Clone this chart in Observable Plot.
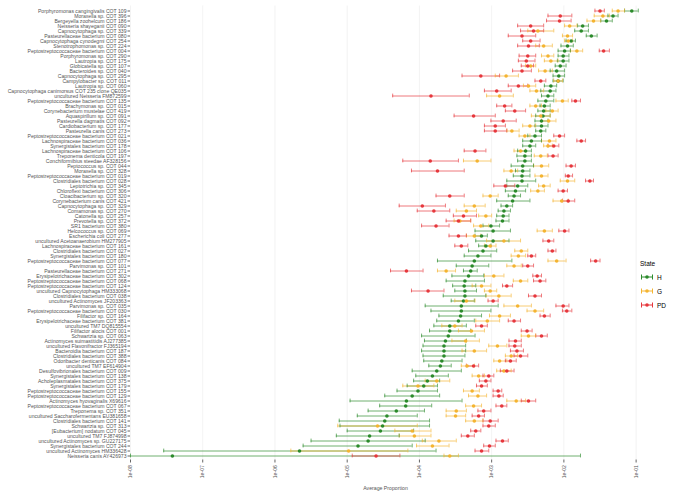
<!DOCTYPE html>
<html>
<head>
<meta charset="utf-8">
<script src="https://cdn.jsdelivr.net/npm/d3@7"></script>
<script src="https://cdn.jsdelivr.net/npm/@observablehq/plot@0.6"></script>
<style>
  html, body { margin: 0; padding: 0; background: #fff; }
  #wrap { position: relative; width: 683px; height: 495px; overflow: hidden; }
  #legend { position: absolute; left: 640px; top: 260px; font-family: "Liberation Sans", Arial, sans-serif; font-size: 6.5px; color: #000; }
  #legend .title { margin-bottom: 3px; }
  #legend .row { display: flex; align-items: center; height: 14px; }
  #legend .row span { margin-left: 3px; }
</style>
</head>
<body>
<div id="wrap"><div id="chart"></div><div id="legend"></div></div>
<script>
// Taxa, top to bottom
const taxa = [
"Porphyromonas cangingivalis COT 109","Moraxella sp. COT 396","Bergeyella zoohelcum COT 186","Neisseria shayeganii COT 090","Capnocytophaga sp. COT 339","Pasteurellaceae bacterium COT 080","Capnocytophaga cynodegmi COT 254","Stenotrophomonas sp. COT 224","Peptostreptococcaceae bacterium COT 004",
"Porphyromonas sp. COT 290","Lautropia sp. COT 175","Globicatella sp. COT 107","Bacteroides sp. COT 040","Capnocytophaga sp. COT 295","Campylobacter sp. COT 011","Lautropia sp. COT 060","Capnocytophaga canimorsus COT 235 clone QE035","uncultured Neisseria FM872599",
"Peptostreptococcaceae bacterium COT 135","Brachymonas sp. COT 015","Corynebacterium mustelae COT 419","Aquaspirillum sp. COT 091","Pasteurella dagmatis COT 092","Cardiobacterium sp. COT 177","Pasteurella canis COT 273","Peptostreptococcaceae bacterium COT 021","Lachnospiraceae bacterium COT 036",
"Synergistales bacterium COT 178","Lachnospiraceae bacterium COT 106","Treponema denticola COT 197","Conchiformibius steedae AF328156","Peptococcus sp. COT 044","Moraxella sp. COT 328","Peptostreptococcaceae bacterium COT 019","Clostridiales bacterium COT 028","Leptotrichia sp. COT 345",
"Chloroflexi bacterium COT 306","Cloacibacterium sp. COT 320","Corynebacterium canis COT 421","Capnocytophaga sp. COT 329","Comamonas sp. COT 270","Catonella sp. COT 257","Prevotella sp. COT 372","SR1 bacterium COT 380","Helcococcus sp. COT 069",
"Escherichia coli COT 277","uncultured Acetoanaerobium HM277905","Lachnospiraceae bacterium COT 161","Clostridiales bacterium COT 027","Synergistales bacterium COT 180","Peptostreptococcaceae bacterium COT 077","Parvimonas sp. COT 101","Pasteurellaceae bacterium COT 271","Erysipelotrichaceae bacterium COT 302",
"Peptostreptococcaceae bacterium COT 068","Peptostreptococcaceae bacterium COT 124","uncultured Capnocytophaga HM333068","Clostridiales bacterium COT 038","uncultured Actinomyces JF203363","Parvimonas sp. COT 035","Peptostreptococcaceae bacterium COT 030","Filifactor sp. COT 164","Erysipelotrichaceae bacterium COT 381",
"uncultured TM7 DQ815554","Filifactor alocis COT 001","Schwartzia sp. COT 063","Actinomyces suimastitidis AJ277385","uncultured Flavonifractor FJ365194","Bacteroidia bacterium COT 187","Clostridiales bacterium COT 388","Odoribacter denticanis COT 084","uncultured TM7 EF614904","Desulfovibrionales bacterium COT 009",
"Synergistales bacterium COT 138","Acholeplasmatales bacterium COT 375","Synergistales bacterium COT 179","Peptostreptococcaceae bacterium COT 155","Peptostreptococcaceae bacterium COT 129","Actinomyces hyovaginalis X69616","Peptostreptococcaceae bacterium COT 067","Treponema sp. COT 351","uncultured Saccharofermentans EU381658",
"Clostridiales bacterium COT 141","Schwartzia sp. COT 313","[Eubacterium] nodatum COT 045","uncultured TM7 FJ874998","uncultured Actinomyces sp. GU227175","Synergistales bacterium COT 244","uncultured Actinomyces HM336428","Neisseria canis AY426973"
];

const states = ["H", "G", "PD"];

// log10(average proportion); lo/hi = error bar ends
const H_log10_mean = [-1.06,-1.32,-1.41,-1.74,-1.76,-1.62,-1.90,-1.95,-1.99,
-2.01,-2.01,-2.05,-2.10,-2.07,-2.08,-2.18,-2.19,-2.22,
-2.25,-2.27,-2.28,-2.29,-2.31,-2.31,-2.32,-2.40,-2.45,
-2.47,-2.53,-2.54,-2.54,-2.57,-2.57,-2.58,-2.58,-2.64,
-2.67,-2.69,-2.71,-2.79,-2.83,-2.84,-2.85,-3.01,-2.98,
-3.14,-2.98,-3.08,-3.12,-3.19,-3.24,-3.27,-3.29,-3.32,
-3.37,-3.38,-3.37,-3.37,-3.39,-3.42,-3.42,-3.43,-3.46,
-3.58,-3.58,-3.60,-3.64,-3.66,-3.66,-3.66,-3.69,-3.71,-3.76,
-3.82,-3.89,-3.94,-4.02,-4.10,-4.18,-4.19,-4.32,-4.45,
-4.48,-4.51,-4.54,-4.69,-4.71,-4.85,-5.66,-7.42];
const H_log10_lo = [-1.16,-1.39,-1.49,-1.81,-1.85,-1.69,-1.97,-2.04,-2.08,
-2.08,-2.09,-2.12,-2.19,-2.15,-2.15,-2.27,-2.32,-2.31,
-2.36,-2.33,-2.36,-2.39,-2.40,-2.40,-2.39,-2.50,-2.57,
-2.57,-2.64,-2.65,-2.64,-2.73,-2.67,-2.70,-2.79,-2.79,
-2.81,-2.77,-2.93,-2.87,-2.91,-2.93,-2.94,-3.12,-3.23,
-3.23,-3.22,-3.18,-3.32,-3.38,-3.75,-3.49,-3.39,-3.55,
-3.63,-3.54,-3.51,-3.67,-3.56,-3.92,-3.84,-3.73,-3.76,
-3.80,-3.86,-3.97,-3.93,-3.95,-3.97,-3.95,-3.94,-3.87,-4.10,
-4.05,-4.08,-4.17,-4.31,-4.48,-4.96,-4.55,-4.71,-4.86,
-5.11,-5.10,-5.00,-5.15,-5.50,-5.61,-7.54,-8.00];
const H_log10_hi = [-0.97,-1.25,-1.33,-1.66,-1.66,-1.54,-1.84,-1.87,-1.91,
-1.93,-1.93,-1.97,-1.99,-1.99,-2.01,-2.10,-2.11,-2.14,
-2.14,-2.19,-2.19,-2.19,-2.22,-2.22,-2.25,-2.31,-2.31,
-2.39,-2.45,-2.45,-2.45,-2.42,-2.47,-2.47,-2.39,-2.50,
-2.53,-2.60,-2.47,-2.71,-2.74,-2.76,-2.76,-2.89,-2.74,
-3.06,-2.76,-3.01,-2.93,-3.01,-2.72,-3.04,-3.20,-3.11,
-3.10,-3.22,-3.21,-3.08,-3.24,-2.91,-3.01,-3.14,-3.24,
-3.35,-3.29,-3.23,-3.35,-3.36,-3.36,-3.37,-3.41,-3.56,-3.42,
-3.60,-3.72,-3.75,-3.75,-3.72,-3.41,-3.83,-3.93,-4.03,
-3.86,-3.86,-4.08,-4.28,-3.92,-4.10,-3.77,-1.77];

const G_log10_mean = [-1.25,-1.46,-1.59,-1.92,-2.36,-1.95,-1.94,-2.28,-1.82,
-2.22,-2.18,-2.46,-2.26,-2.80,-2.08,-2.49,-2.38,-2.89,
-2.02,-2.39,-2.16,-2.32,-2.21,-2.47,-2.72,-2.54,-2.20,
-2.22,-2.60,-2.32,-3.20,-2.31,-2.73,-2.31,-1.95,-2.28,
-2.36,-3.02,-2.03,-3.24,-3.35,-3.08,-3.44,-3.15,-2.27,
-3.24,-2.83,-3.02,-2.59,-2.63,-2.10,-2.69,-3.63,-2.97,
-2.60,-3.14,-3.02,-2.90,-3.35,-2.64,-2.40,-2.89,-3.06,
-3.51,-3.28,-2.49,-3.36,-2.92,-3.24,-2.73,-2.89,-3.34,-2.83,
-3.18,-3.76,-4.02,-3.27,-3.19,-2.66,-3.25,-3.49,-3.50,
-3.24,-4.58,-4.10,-4.07,-3.73,-3.82,-4.98,-3.58];
const G_log10_lo = [-1.33,-1.58,-1.68,-1.99,-2.50,-2.02,-1.99,-2.39,-1.91,
-2.31,-2.27,-2.53,-2.35,-2.95,-2.14,-2.56,-2.47,-3.07,
-2.11,-2.47,-2.25,-2.45,-2.31,-2.57,-2.79,-2.62,-2.31,
-2.28,-2.69,-2.41,-3.39,-2.42,-2.83,-2.40,-2.05,-2.35,
-2.46,-3.12,-2.15,-3.38,-3.49,-3.18,-3.52,-3.25,-2.37,
-3.35,-3.07,-3.10,-2.68,-2.73,-2.22,-2.79,-3.75,-3.10,
-2.70,-3.27,-3.10,-3.08,-3.51,-2.83,-2.51,-3.03,-3.22,
-3.69,-3.46,-2.59,-3.55,-3.04,-3.41,-2.81,-2.97,-3.42,-2.93,
-3.27,-3.92,-4.23,-3.39,-3.32,-2.79,-3.36,-3.63,-3.63,
-3.36,-5.13,-4.34,-4.28,-3.96,-4.04,-5.78,-3.66];
const G_log10_hi = [-1.16,-1.37,-1.49,-1.82,-2.14,-1.88,-1.88,-2.16,-1.74,
-2.14,-2.08,-2.39,-2.16,-2.63,-2.02,-2.39,-2.28,-2.70,
-1.94,-2.31,-2.08,-2.19,-2.11,-2.39,-2.62,-2.47,-2.11,
-2.16,-2.53,-2.23,-3.01,-2.21,-2.64,-2.22,-1.85,-2.19,
-2.27,-2.91,-1.94,-3.09,-3.21,-3.00,-3.29,-3.04,-2.16,
-3.15,-2.60,-2.94,-2.50,-2.53,-1.97,-2.59,-3.50,-2.83,
-2.50,-3.01,-2.93,-2.73,-3.23,-2.45,-2.28,-2.74,-2.89,
-3.41,-3.10,-2.39,-3.17,-2.79,-3.07,-2.64,-2.79,-3.24,-2.73,
-3.10,-3.58,-3.80,-3.17,-3.07,-2.53,-3.14,-3.35,-3.36,
-3.12,-4.03,-3.84,-3.84,-3.49,-3.59,-4.16,-3.46];

const PD_log10_mean = [-1.50,-2.05,-2.06,-2.46,-2.42,-2.58,-2.46,-2.49,-1.45,
-2.50,-2.52,-2.50,-2.58,-3.15,-2.32,-2.63,-2.93,-3.84,
-1.84,-2.82,-2.68,-3.25,-2.84,-2.95,-2.95,-2.06,-1.76,
-2.14,-3.23,-2.15,-3.85,-1.90,-3.75,-1.94,-1.64,-2.81,
-2.01,-3.58,-1.94,-3.96,-3.80,-3.39,-3.46,-3.77,-1.99,
-3.46,-2.21,-3.42,-2.16,-2.45,-1.56,-2.50,-4.18,-2.37,
-2.33,-2.79,-3.88,-2.40,-2.98,-2.01,-1.96,-2.27,-2.69,
-3.14,-2.51,-2.31,-2.67,-2.68,-2.65,-2.60,-2.74,-3.25,-2.79,
-3.04,-3.08,-3.14,-2.91,-2.90,-2.49,-2.86,-3.11,-3.18,
-3.02,-3.04,-3.22,-3.33,-2.85,-3.03,-3.14,-4.60];
const PD_log10_lo = [-1.57,-2.22,-2.24,-2.64,-2.60,-2.77,-2.57,-2.64,-1.51,
-2.62,-2.63,-2.59,-2.71,-3.41,-2.40,-2.77,-3.10,-4.37,
-1.89,-2.93,-2.81,-3.52,-3.01,-3.10,-3.10,-2.14,-1.82,
-2.22,-3.38,-2.22,-4.23,-1.97,-4.11,-1.98,-1.70,-2.97,
-2.08,-3.77,-2.02,-4.28,-4.03,-3.53,-3.63,-3.97,-2.07,
-3.59,-2.29,-3.51,-2.22,-2.50,-1.63,-2.57,-4.40,-2.43,
-2.42,-2.85,-4.11,-2.49,-3.05,-2.11,-2.02,-2.33,-2.77,
-3.22,-2.59,-2.39,-2.76,-2.76,-2.74,-2.69,-2.81,-3.35,-2.88,
-3.12,-3.17,-3.21,-2.98,-2.98,-2.59,-2.94,-3.19,-3.27,
-3.12,-3.12,-3.29,-3.42,-2.94,-3.11,-3.23,-4.93];
const PD_log10_hi = [-1.44,-1.89,-1.90,-2.28,-2.28,-2.39,-2.33,-2.34,-1.37,
-2.39,-2.40,-2.42,-2.45,-2.89,-2.25,-2.50,-2.73,-3.31,
-1.77,-2.72,-2.53,-2.95,-2.66,-2.81,-2.79,-1.99,-1.70,
-2.07,-3.08,-2.08,-3.46,-1.84,-3.38,-1.88,-1.59,-2.68,
-1.95,-3.38,-1.85,-3.64,-3.58,-3.21,-3.29,-3.59,-1.93,
-3.35,-2.14,-3.33,-2.11,-2.39,-1.50,-2.42,-3.95,-2.31,
-2.25,-2.71,-3.66,-2.31,-2.91,-1.93,-1.89,-2.19,-2.60,
-3.06,-2.44,-2.23,-2.59,-2.59,-2.56,-2.50,-2.66,-3.18,-2.69,
-2.97,-3.01,-3.06,-2.86,-2.84,-2.39,-2.79,-3.01,-3.10,
-2.91,-2.95,-3.15,-3.24,-2.77,-2.95,-3.04,-4.27];

const xTicks = [1e-8, 1e-7, 1e-6, 1e-5, 1e-4, 1e-3, 1e-2, 1e-1];
const stateColors = ["#2b8a2b", "#f4b431", "#e6373c"];

const series = {
  H: [H_log10_mean, H_log10_lo, H_log10_hi],
  G: [G_log10_mean, G_log10_lo, G_log10_hi],
  PD: [PD_log10_mean, PD_log10_lo, PD_log10_hi]
};
const rows = [];
for (const s of states) {
  const [m, lo, hi] = series[s];
  taxa.forEach((t, i) => rows.push({taxon: t, state: s, mean: 10 ** m[i], lo: 10 ** lo[i], hi: 10 ** hi[i]}));
}

const fmt = d => {
  const e = Math.round(Math.log10(d));
  return "1e" + (e < 0 ? "-" : "+") + String(Math.abs(e)).padStart(2, "0");
};

const chart = Plot.plot({
  width: 683,
  height: 495,
  marginLeft: 130,
  marginRight: 43,
  marginTop: 5.5,
  marginBottom: 35.5,
  style: {fontFamily: "'Liberation Sans', Arial, sans-serif", background: "#fff", overflow: "visible"},
  x: {type: "log", domain: [1e-8, 0.115]},
  y: {type: "band", domain: taxa, padding: 0},
  color: {domain: states, range: stateColors},
  marks: [
    Plot.gridX(xTicks, {stroke: "#ebebeb", strokeOpacity: 1, strokeWidth: 0.6}),
    Plot.axisY({tickSize: 2.5, tickPadding: 1.5, fontSize: 5.1, color: "#555", stroke: "#666", label: null}),
    Plot.axisX(xTicks, {tickFormat: fmt, tickRotate: -90, tickSize: 3, tickPadding: 2, fontSize: 5.2, color: "#555", stroke: "#666",
      label: "Average Proportion", labelAnchor: "center", labelArrow: "none", labelOffset: 30}),
    Plot.ruleY(rows, {y: "taxon", x1: "lo", x2: "hi", stroke: "state", strokeWidth: 0.9, strokeOpacity: 0.75, clip: true}),
    Plot.tickX(rows, {x: "lo", y: "taxon", stroke: "state", strokeWidth: 0.9, strokeOpacity: 0.75, insetTop: 0.6, insetBottom: 0.6}),
    Plot.tickX(rows, {x: "hi", y: "taxon", stroke: "state", strokeWidth: 0.9, strokeOpacity: 0.75, insetTop: 0.6, insetBottom: 0.6}),
    Plot.dot(rows, {x: "mean", y: "taxon", fill: "state", r: 1.8})
  ]
});
document.getElementById("chart").appendChild(chart);

// Legend
const legend = document.getElementById("legend");
legend.innerHTML = '<div class="title">State</div>' + states.map((s, i) =>
  `<div class="row"><svg width="14" height="10"><line x1="1.5" x2="12.5" y1="5" y2="5" stroke="${stateColors[i]}" stroke-width="1"/>` +
  `<line x1="1.5" x2="1.5" y1="2.5" y2="7.5" stroke="${stateColors[i]}"/><line x1="12.5" x2="12.5" y1="2.5" y2="7.5" stroke="${stateColors[i]}"/>` +
  `<circle cx="7" cy="5" r="1.8" fill="${stateColors[i]}"/></svg><span>${s}</span></div>`).join("");
</script>
</body>
</html>
